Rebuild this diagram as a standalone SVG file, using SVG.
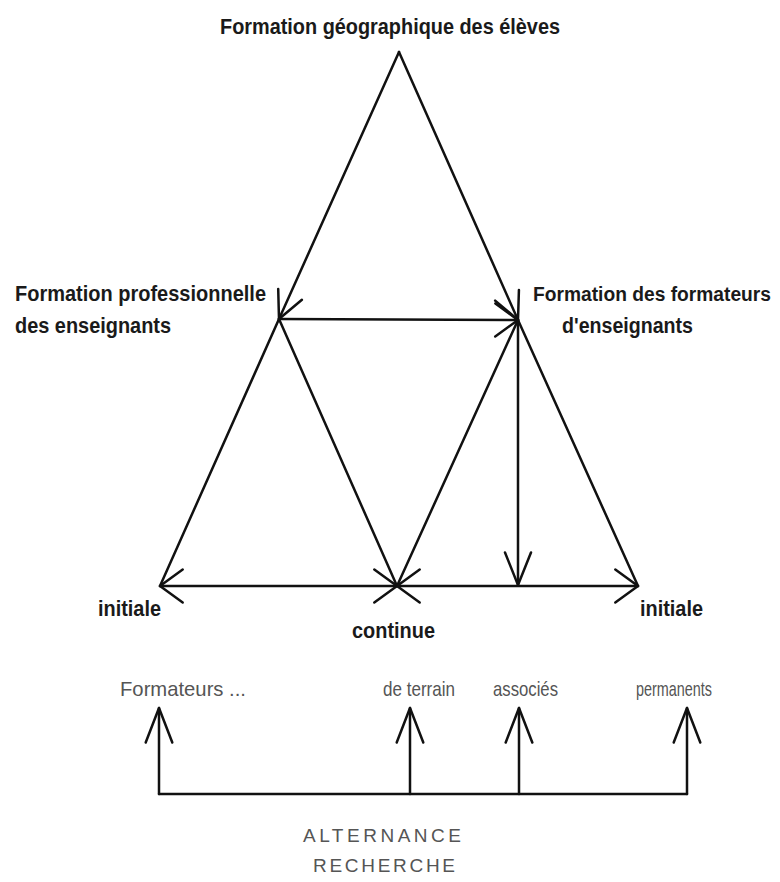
<svg xmlns="http://www.w3.org/2000/svg" width="780" height="882" viewBox="0 0 780 882">
<defs>
<style>
.b{font-family:"Liberation Sans Narrow","Liberation Sans",Arial,sans-serif;font-weight:bold;font-size:22px;fill:#1a1a1a}
.l{font-family:"Liberation Sans Narrow","Liberation Sans",Arial,sans-serif;font-size:21px;fill:#555}
.c{font-family:"Liberation Sans","DejaVu Sans",sans-serif;font-size:19px;fill:#555}
.ln{fill:none;stroke:#111;stroke-width:2.5;stroke-linecap:round;stroke-linejoin:round}
.mk{fill:none;stroke:#111;stroke-width:2.5;stroke-linecap:round;stroke-linejoin:round}
</style>
<marker id="aD" markerUnits="userSpaceOnUse" orient="auto" overflow="visible" markerWidth="1" markerHeight="1"><path class="mk" d="M-27,-13 L0,0 L-27,13"/></marker>
<marker id="aH" markerUnits="userSpaceOnUse" orient="auto-start-reverse" overflow="visible" markerWidth="1" markerHeight="1"><path class="mk" d="M-22.7,-16.5 L0,0 L-22.7,16.5"/></marker>
<marker id="aV" markerUnits="userSpaceOnUse" orient="auto" overflow="visible" markerWidth="1" markerHeight="1"><path class="mk" d="M-32.5,-13 L0,0 L-32.5,13"/></marker>
<marker id="aU" markerUnits="userSpaceOnUse" orient="auto" overflow="visible" markerWidth="1" markerHeight="1"><path class="mk" d="M-34.5,-13.3 L0,0 L-34.5,13.3"/></marker>
</defs>
<rect width="780" height="882" fill="#ffffff"/>
<g id="connectors">
<line class="ln" x1="399" y1="52" x2="279" y2="319" marker-end="url(#aD)"/>
<line class="ln" x1="399" y1="52" x2="518" y2="320" marker-end="url(#aD)"/>
<line class="ln" x1="279" y1="319" x2="518" y2="320" marker-end="url(#aH)"/>
<line class="ln" x1="279" y1="319" x2="160" y2="586"/>
<line class="ln" x1="279" y1="319" x2="397" y2="586"/>
<line class="ln" x1="518" y1="320" x2="397" y2="586"/>
<line class="ln" x1="518" y1="320" x2="638" y2="586"/>
<line class="ln" x1="518" y1="320" x2="518" y2="585" marker-end="url(#aV)"/>
<line class="ln" x1="160" y1="586" x2="397" y2="586" marker-start="url(#aH)" marker-end="url(#aH)"/>
<line class="ln" x1="397" y1="586" x2="638" y2="586" marker-start="url(#aH)" marker-end="url(#aH)"/>
<polyline class="ln" points="159,794 687,794"/>
<line class="ln" x1="159" y1="794" x2="159" y2="708" marker-end="url(#aU)"/>
<line class="ln" x1="410" y1="794" x2="410" y2="708" marker-end="url(#aU)"/>
<line class="ln" x1="519" y1="794" x2="519" y2="708" marker-end="url(#aU)"/>
<line class="ln" x1="687" y1="794" x2="687" y2="708" marker-end="url(#aU)"/>
</g>
<g id="node-eleves"><text class="b" x="220" y="34" textLength="340" lengthAdjust="spacingAndGlyphs">Formation géographique des élèves</text></g>
<g id="node-professionnelle"><text class="b" x="15" y="301" textLength="251" lengthAdjust="spacingAndGlyphs">Formation professionnelle</text><text class="b" x="15" y="333" textLength="156" lengthAdjust="spacingAndGlyphs">des enseignants</text></g>
<g id="node-formateurs"><text class="b" x="533" y="301" style="font-size:20px" textLength="238" lengthAdjust="spacingAndGlyphs">Formation des formateurs</text><text class="b" x="562" y="333" textLength="131" lengthAdjust="spacingAndGlyphs">d'enseignants</text></g>
<g id="node-initiale-left"><text class="b" x="98" y="616" textLength="63" lengthAdjust="spacingAndGlyphs">initiale</text></g>
<g id="node-continue"><text class="b" x="352" y="638" textLength="83" lengthAdjust="spacingAndGlyphs">continue</text></g>
<g id="node-initiale-right"><text class="b" x="640" y="616" textLength="63" lengthAdjust="spacingAndGlyphs">initiale</text></g>
<g id="node-formateurs-row">
<text class="l" x="120" y="696" textLength="126" lengthAdjust="spacingAndGlyphs">Formateurs ...</text>
<text class="l" x="383" y="696" textLength="72" lengthAdjust="spacingAndGlyphs">de terrain</text>
<text class="l" x="493" y="696" textLength="65" lengthAdjust="spacingAndGlyphs">associés</text>
<text class="l" x="636" y="696" textLength="76" lengthAdjust="spacingAndGlyphs">permanents</text>
</g>
<g id="node-alternance">
<text class="c" x="303" y="842" textLength="158" lengthAdjust="spacing">ALTERNANCE</text>
<text class="c" x="313" y="872" textLength="142" lengthAdjust="spacing">RECHERCHE</text>
</g>
</svg>
